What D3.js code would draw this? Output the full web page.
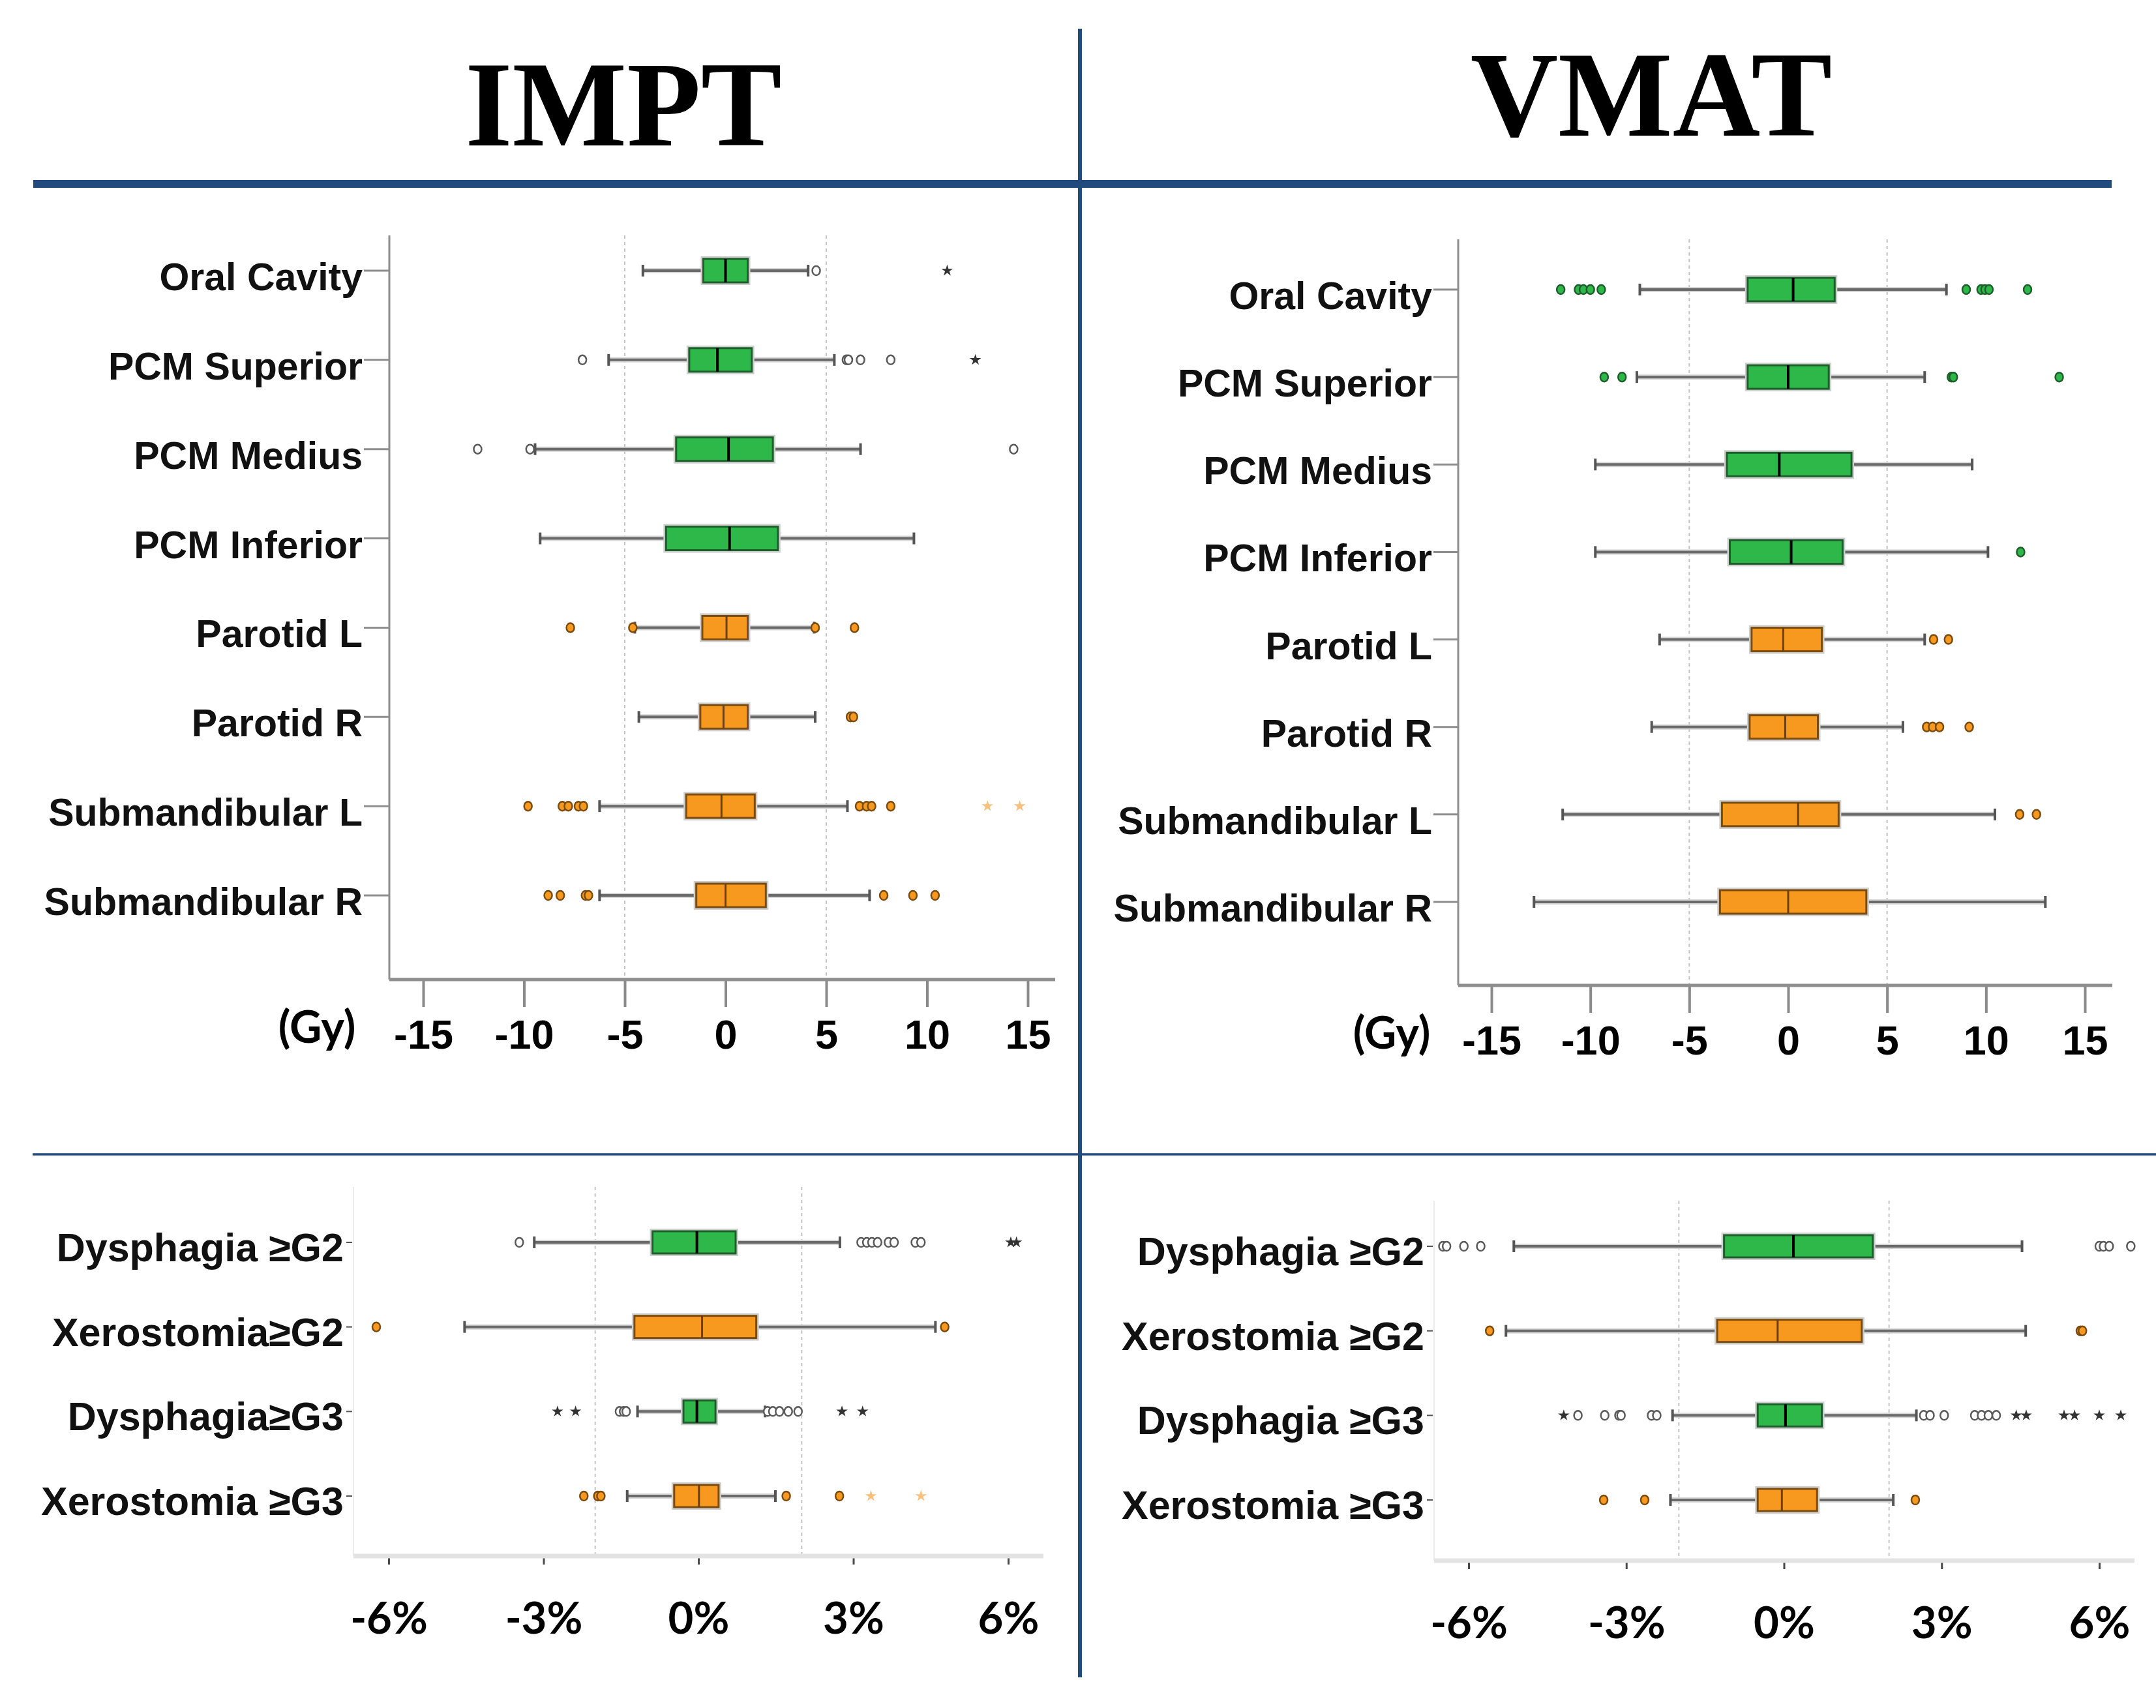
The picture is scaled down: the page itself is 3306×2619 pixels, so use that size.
<!DOCTYPE html>
<meta charset="utf-8">
<html>
<head>
<title>IMPT vs VMAT</title>
<script src="https://d3js.org/d3.v7.min.js"></script>
<style>
    html, body { margin: 0; padding: 0; background: #fff; }
    .rowLabel { font-weight: bold; fill: #111; }
    .title { font-family: 'Liberation Serif', 'Times New Roman', serif; font-weight: bold; fill: #000; }
</style>
</head>
<body>
<div id="chart"></div>
<script>
    // ---- data ----
    var organs = ["Oral Cavity", "PCM Superior", "PCM Medius", "PCM Inferior",
                  "Parotid L", "Parotid R", "Submandibular L", "Submandibular R"];
    var organGroup = ["swallow", "swallow", "swallow", "swallow",
                      "saliva", "saliva", "saliva", "saliva"];

    // [lower whisker, Q1, median, Q3, upper whisker]  (Gy)
    var imptGy = [
        [-4.1, -1.1, 0.0, 1.1, 4.1],
        [-5.8, -1.8, -0.4, 1.3, 5.4],
        [-9.45, -2.45, 0.15, 2.35, 6.7],
        [-9.2, -2.95, 0.2, 2.6, 9.35],
        [-4.5, -1.15, 0.05, 1.1, 4.4],
        [-4.3, -1.25, -0.1, 1.1, 4.45],
        [-6.25, -1.95, -0.2, 1.45, 6.05],
        [-6.25, -1.45, 0.0, 2.0, 7.15]
    ];
    // outliers: [value, kind]  o = open circle, f = filled circle, * = star, s = light star
    var imptGyOut = [
        [[4.5, "o"], [11.0, "*"]],
        [[-7.1, "o"], [6.0, "o"], [6.1, "o"], [6.7, "o"], [8.2, "o"], [12.4, "*"]],
        [[-12.3, "o"], [-9.7, "o"], [14.3, "o"]],
        [],
        [[-7.7, "f"], [-4.6, "f"], [4.45, "f"], [6.4, "f"]],
        [[6.2, "f"], [6.35, "f"]],
        [[-9.8, "f"], [-8.1, "f"], [-7.8, "f"], [-7.3, "f"], [-7.05, "f"], [6.65, "f"], [7.0, "f"], [7.25, "f"], [8.2, "f"], [13.0, "s"], [14.6, "s"]],
        [[-8.8, "f"], [-8.2, "f"], [-6.95, "f"], [-6.8, "f"], [7.85, "f"], [9.3, "f"], [10.4, "f"]]
    ];

    var vmatGy = [
        [-7.5, -2.05, 0.25, 2.35, 8.0],
        [-7.65, -2.05, 0.0, 2.05, 6.9],
        [-9.75, -3.1, -0.45, 3.2, 9.3],
        [-9.75, -2.95, 0.15, 2.75, 10.1],
        [-6.5, -1.85, -0.25, 1.7, 6.9],
        [-6.9, -1.95, -0.15, 1.5, 5.8],
        [-11.4, -3.35, 0.5, 2.55, 10.45],
        [-12.85, -3.45, 0.0, 3.95, 13.0]
    ];
    var vmatGyOut = [
        [[-11.5, "f"], [-10.6, "f"], [-10.35, "f"], [-10.0, "f"], [-9.45, "f"], [9.0, "f"], [9.75, "f"], [9.95, "f"], [10.15, "f"], [12.1, "f"]],
        [[-9.3, "f"], [-8.4, "f"], [8.25, "f"], [8.35, "f"], [13.7, "f"]],
        [],
        [[11.75, "f"]],
        [[7.35, "f"], [8.1, "f"]],
        [[7.0, "f"], [7.3, "f"], [7.65, "f"], [9.15, "f"]],
        [[11.7, "f"], [12.55, "f"]],
        []
    ];

    var imptTox = ["Dysphagia \u2265G2", "Xerostomia\u2265G2", "Dysphagia\u2265G3", "Xerostomia \u2265G3"];
    var vmatTox = ["Dysphagia \u2265G2", "Xerostomia \u2265G2", "Dysphagia \u2265G3", "Xerostomia \u2265G3"];
    var toxGroup = ["swallow", "saliva", "swallow", "saliva"];

    // NTCP difference (%)
    var imptNtcp = [
        [-3.18, -0.89, -0.03, 0.72, 2.74],
        [-4.53, -1.24, 0.07, 1.12, 4.59],
        [-1.18, -0.29, -0.03, 0.33, 1.29],
        [-1.38, -0.47, 0.01, 0.39, 1.49]
    ];
    var imptNtcpOut = [
        [[-3.47, "o"], [3.15, "o"], [3.26, "o"], [3.36, "o"], [3.47, "o"], [3.68, "o"], [3.79, "o"], [4.2, "o"], [4.31, "o"], [6.05, "*"], [6.16, "*"]],
        [[-6.24, "f"], [4.77, "f"]],
        [[-2.73, "*"], [-2.38, "*"], [-1.53, "o"], [-1.45, "o"], [-1.4, "o"], [1.34, "o"], [1.44, "o"], [1.57, "o"], [1.74, "o"], [1.93, "o"], [2.78, "*"], [3.18, "*"]],
        [[-2.22, "f"], [-1.95, "f"], [-1.89, "f"], [1.7, "f"], [2.73, "f"], [3.34, "s"], [4.31, "s"]]
    ];

    var vmatNtcp = [
        [-5.14, -1.14, 0.18, 1.69, 4.53],
        [-5.29, -1.27, -0.12, 1.48, 4.6],
        [-2.12, -0.5, 0.03, 0.72, 2.52],
        [-2.16, -0.5, -0.04, 0.63, 2.08]
    ];
    var vmatNtcpOut = [
        [[-6.49, "o"], [-6.42, "o"], [-6.09, "o"], [-5.77, "o"], [6.0, "o"], [6.08, "o"], [6.19, "o"], [6.6, "o"]],
        [[-5.6, "f"], [5.64, "f"], [5.68, "f"]],
        [[-4.19, "*"], [-3.92, "o"], [-3.41, "o"], [-3.14, "o"], [-3.1, "o"], [-2.52, "o"], [-2.42, "o"], [2.66, "o"], [2.78, "o"], [3.05, "o"], [3.63, "o"], [3.76, "o"], [3.89, "o"], [4.04, "o"], [4.42, "*"], [4.61, "*"], [5.33, "*"], [5.53, "*"], [6.0, "*"], [6.41, "*"]],
        [[-3.43, "f"], [-2.65, "f"], [2.5, "f"]]
    ];

    var gyTicks = [-15, -10, -5, 0, 5, 10, 15];
    var gyRef = [-5, 5];
    var pctTicks = [-6, -3, 0, 3, 6];
    var pctRef = [-2, 2];

    // ---- styles ----
    var fillColor = { swallow: "#2fb84a", saliva: "#f7991f" };
    var edgeColor = { swallow: "#1d5f2b", saliva: "#7a4c10" };
    var medColor = { swallow: "#000", saliva: "#6b400c" };
    var lightStar = "#f8c27e";
    var sansFont = "'Liberation Sans', Arial, sans-serif";

    var W = 3306, H = 2619;
    var svg = d3.select("#chart").append("svg").attr("width", W).attr("height", H);

    // titles
    svg.append("text").attr("class", "title").attr("x", 956).attr("y", 223)
        .attr("text-anchor", "middle").style("font-size", "186px").text("IMPT");
    svg.append("text").attr("class", "title").attr("x", 2532).attr("y", 208)
        .attr("text-anchor", "middle").style("font-size", "186px").text("VMAT");

    // divider lines
    svg.append("line").attr("x1", 51).attr("x2", 3238).attr("y1", 282).attr("y2", 282)
        .style("stroke", "#214b7e").style("stroke-width", 12);
    svg.append("line").attr("x1", 50).attr("x2", W).attr("y1", 1770).attr("y2", 1770)
        .style("stroke", "#214b7e").style("stroke-width", 3.5);
    svg.append("line").attr("x1", 1656).attr("x2", 1656).attr("y1", 44).attr("y2", 2572)
        .style("stroke", "#214b7e").style("stroke-width", 6);

    function drawPanel(p) {
        var g = svg.append("g");
        var x = d3.scaleLinear().domain(p.domain).range(p.xRange);
        var y = d3.scalePoint().domain(p.cats).range(p.yRange);
        var top = p.kind === "top";

        // reference dashed lines
        g.selectAll(".ref").data(p.ref).enter().append("line")
            .attr("x1", function (d) { return x(d); }).attr("x2", function (d) { return x(d); })
            .attr("y1", p.axisTop).attr("y2", p.axisY)
            .style("stroke", "#c4c4c4").style("stroke-width", 2).style("stroke-dasharray", "5,5");

        // y axis line
        g.append("line").attr("x1", p.axisX0).attr("x2", p.axisX0).attr("y1", p.axisTop).attr("y2", p.axisY)
            .style("stroke", top ? "#8e8e8e" : "#ececec").style("stroke-width", top ? 3 : 2);

        // x axis
        var ax = d3.axisBottom(x).tickValues(p.ticks).tickSize(top ? 42 : 13)
            .tickPadding(top ? 19 : 58).tickFormat(p.fmt);
        var axg = g.append("g").attr("transform", "translate(0," + p.axisY + ")").call(ax);
        axg.select(".domain").remove();
        axg.selectAll(".tick line").style("stroke", top ? "#8a8a8a" : "#4a4a4a").style("stroke-width", top ? 4 : 3);
        axg.selectAll(".tick text").style("fill", "#000").style("font-weight", "bold")
            .style("font-family", top ? sansFont : "Lato, 'Open Sans', sans-serif")
            .style("font-size", top ? "63px" : "67px");
        g.append("line").attr("x1", p.axisX0).attr("x2", p.axisX1).attr("y1", p.axisY).attr("y2", p.axisY)
            .style("stroke", top ? "#8e8e8e" : "#e3e3e3").style("stroke-width", top ? 5 : 7);

        if (p.unit) {
            g.append("text").attr("x", p.unitX).attr("y", p.axisY + 97).attr("text-anchor", "middle")
                .style("font-family", "Lato, sans-serif").style("font-weight", "bold")
                .style("font-size", "68px").text(p.unit);
        }

        // category ticks + labels
        g.selectAll(".ytick").data(p.cats).enter().append("line")
            .attr("x1", top ? p.labelRight + 2 : p.labelRight + 4)
            .attr("x2", top ? p.axisX0 : p.labelRight + 13)
            .attr("y1", function (d) { return y(d); }).attr("y2", function (d) { return y(d); })
            .style("stroke", top ? "#8e8e8e" : "#555").style("stroke-width", top ? 3 : 2);
        g.selectAll(".rowLabel").data(p.cats).enter().append("text")
            .attr("class", "rowLabel").attr("text-anchor", "end")
            .attr("x", p.labelRight).attr("y", function (d) { return y(d) + (top ? 30 : 29); })
            .style("font-family", sansFont)
            .style("font-size", top ? "59px" : "61px")
            .text(function (d) { return d; });

        var bh = p.boxH;
        p.cats.forEach(function (c, i) {
            var s = p.stats[i], grp = p.groups[i], cy = y(c);
            var row = g.append("g");
            // whisker
            row.append("line").attr("x1", x(s[0])).attr("x2", x(s[4])).attr("y1", cy).attr("y2", cy)
                .style("stroke", "#d6d6d6").style("stroke-width", 8);
            row.append("line").attr("x1", x(s[0])).attr("x2", x(s[4])).attr("y1", cy).attr("y2", cy)
                .style("stroke", "#6a6a6a").style("stroke-width", 4);
            [s[0], s[4]].forEach(function (v) {
                row.append("line").attr("x1", x(v)).attr("x2", x(v)).attr("y1", cy - 9).attr("y2", cy + 9)
                    .style("stroke", "#555").style("stroke-width", 4);
            });
            // box
            row.append("rect").attr("x", x(s[1])).attr("y", cy - bh / 2)
                .attr("width", x(s[3]) - x(s[1])).attr("height", bh)
                .style("fill", "none").style("stroke", "#cfcfcf").style("stroke-width", 8);
            row.append("rect").attr("x", x(s[1])).attr("y", cy - bh / 2)
                .attr("width", x(s[3]) - x(s[1])).attr("height", bh)
                .style("fill", fillColor[grp]).style("stroke", edgeColor[grp]).style("stroke-width", 3);
            row.append("line").attr("x1", x(s[2])).attr("x2", x(s[2]))
                .attr("y1", cy - bh / 2).attr("y2", cy + bh / 2)
                .style("stroke", medColor[grp]).style("stroke-width", grp === "swallow" ? 4 : 3);

            // outliers
            var outs = p.outs[i];
            row.selectAll(".oc").data(outs.filter(function (o) { return o[1] === "o" || o[1] === "f"; }))
                .enter().append("ellipse")
                .attr("cx", function (o) { return x(o[0]); }).attr("cy", cy)
                .attr("rx", 6).attr("ry", 7)
                .style("fill", function (o) { return o[1] === "o" ? "#fff" : fillColor[grp]; })
                .style("stroke", function (o) { return o[1] === "o" ? "#5a5a5a" : edgeColor[grp]; })
                .style("stroke-width", 2.5);
            row.selectAll(".os").data(outs.filter(function (o) { return o[1] === "*" || o[1] === "s"; }))
                .enter().append("path")
                .attr("d", d3.symbol().type(d3.symbolStar).size(95))
                .attr("transform", function (o) { return "translate(" + x(o[0]) + "," + cy + ")"; })
                .style("fill", function (o) { return o[1] === "*" ? "#333" : lightStar; });
        });
    }

    var fmtGy = function (d) { return d; };
    var fmtPct = function (d) { return d + "%"; };

    drawPanel({ kind: "top", cats: organs, groups: organGroup, stats: imptGy, outs: imptGyOut,
        domain: [-15, 15], xRange: [649, 1576], yRange: [415, 1373], ticks: gyTicks, ref: gyRef, fmt: fmtGy,
        axisY: 1502, axisTop: 361, axisX0: 597, axisX1: 1618, labelRight: 556, boxH: 36,
        unit: "(Gy)", unitX: 486 });
    drawPanel({ kind: "top", cats: organs, groups: organGroup, stats: vmatGy, outs: vmatGyOut,
        domain: [-15, 15], xRange: [2287, 3197], yRange: [444, 1383], ticks: gyTicks, ref: gyRef, fmt: fmtGy,
        axisY: 1511, axisTop: 367, axisX0: 2236, axisX1: 3239, labelRight: 2196, boxH: 36,
        unit: "(Gy)", unitX: 2134 });
    drawPanel({ kind: "bottom", cats: imptTox, groups: toxGroup, stats: imptNtcp, outs: imptNtcpOut,
        domain: [-6, 6], xRange: [596, 1546], yRange: [1905, 2294], ticks: pctTicks, ref: pctRef, fmt: fmtPct,
        axisY: 2386, axisTop: 1820, axisX0: 542, axisX1: 1600, labelRight: 527, boxH: 34 });
    drawPanel({ kind: "bottom", cats: vmatTox, groups: toxGroup, stats: vmatNtcp, outs: vmatNtcpOut,
        domain: [-6, 6], xRange: [2252, 3219], yRange: [1911, 2300], ticks: pctTicks, ref: pctRef, fmt: fmtPct,
        axisY: 2393, axisTop: 1841, axisX0: 2199, axisX1: 3273, labelRight: 2184, boxH: 34 });
</script>
</body>
</html>
